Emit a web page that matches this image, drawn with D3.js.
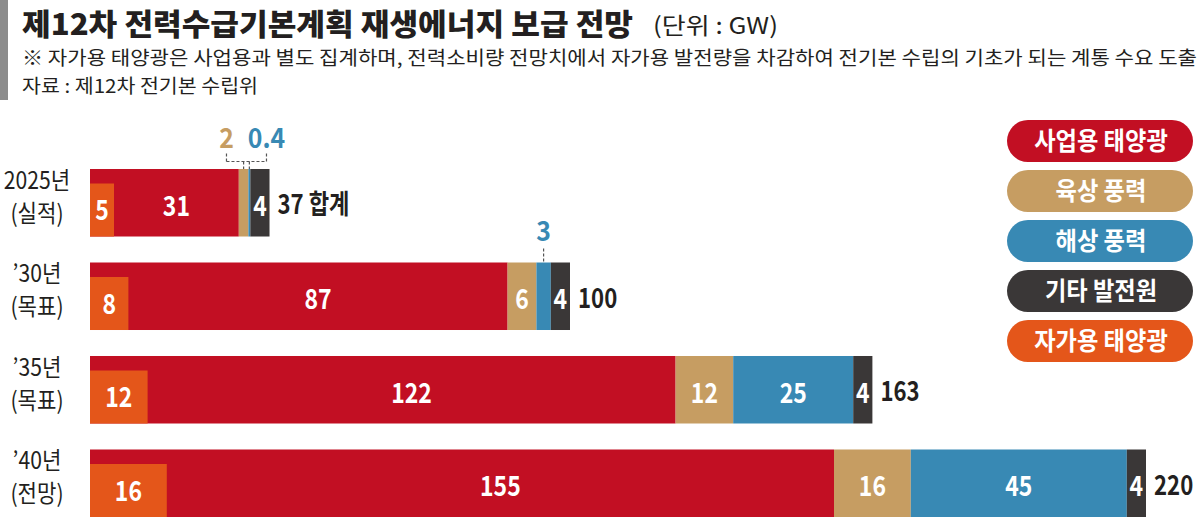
<!DOCTYPE html>
<html>
<head>
<meta charset="utf-8">
<script src="https://cdn.jsdelivr.net/npm/d3@7"></script>
<style>
  body { margin: 0; background: #fff; }
  svg { display: block; }
</style>
</head>
<body>
<div id="chart"></div>
<script>
// data (GW)
const categories = ["2025년", "’30년", "’35년", "’40년"];
const subLabels = ["(실적)", "(목표)", "(목표)", "(전망)"];
const seriesNames = ["사업용 태양광", "육상 풍력", "해상 풍력", "기타 발전원", "자가용 태양광"];
const utilitySolar = [31, 87, 122, 155];
const onshoreWind = [2, 6, 12, 16];
const offshoreWind = [0.4, 3, 25, 45];
const otherSources = [4, 4, 4, 4];
const selfSolar = [5, 8, 12, 16];
const totalLabels = ["37 합계", "100", "163", "220"];

const keys = ["utility", "onshore", "offshore", "other"];
const colors = ["#c20f23", "#c69d62", "#3889b4", "#3a3737", "#e4561a"];
const KR = "'Noto Sans CJK KR', 'Noto Sans', sans-serif";

const width = 1200, height = 517;

const svg = d3
  .select("#chart")
  .append("svg")
  .attr("width", width)
  .attr("height", height)
  .attr("viewBox", `0 0 ${width} ${height}`)
  .style("font-family", KR);

// squeeze text horizontally, the original uses a condensed face
const squeeze = (sel, k) =>
  sel.each(function () {
    const w = this.getComputedTextLength();
    d3.select(this).attr("textLength", w * k).attr("lengthAdjust", "spacingAndGlyphs");
  });

// header
svg.append("rect").attr("x", 0).attr("y", 0).attr("width", 8).attr("height", 100).attr("fill", "#8c8c8c");
svg.append("text")
  .attr("x", 22).attr("y", 35)
  .attr("font-size", 30).attr("font-weight", 900).attr("fill", "#231f20")
  .attr("textLength", 611).attr("lengthAdjust", "spacingAndGlyphs")
  .text("제12차 전력수급기본계획 재생에너지 보급 전망");
svg.append("text")
  .attr("x", 653).attr("y", 34)
  .attr("font-size", 23).attr("fill", "#231f20")
  .attr("textLength", 125).attr("lengthAdjust", "spacingAndGlyphs")
  .text("(단위 : GW)");
svg.append("text")
  .attr("x", 22).attr("y", 65)
  .attr("font-size", 19).attr("fill", "#231f20")
  .attr("textLength", 1175).attr("lengthAdjust", "spacingAndGlyphs")
  .text("※ 자가용 태양광은 사업용과 별도 집계하며, 전력소비량 전망치에서 자가용 발전량을 차감하여 전기본 수립의 기초가 되는 계통 수요 도출");
svg.append("text")
  .attr("x", 22).attr("y", 93)
  .attr("font-size", 19).attr("fill", "#231f20")
  .attr("textLength", 236).attr("lengthAdjust", "spacingAndGlyphs")
  .text("자료 : 제12차 전기본 수립위");

// scales
const x = d3.scaleLinear().domain([0, 220]).range([90, 1146]);
const y = d3.scaleBand().domain(categories).range([169, 517]).paddingInner(0.278).paddingOuter(0);
const bh = y.bandwidth();
const selfInset = 14.5;

const rows = categories.map((c, i) => ({
  cat: c,
  i: i,
  utility: utilitySolar[i],
  onshore: onshoreWind[i],
  offshore: offshoreWind[i],
  other: otherSources[i],
}));
const series = d3.stack().keys(keys)(rows);

// stacked bars
const layers = svg.selectAll("g.layer").data(series).enter().append("g").attr("class", "layer")
  .attr("fill", (s, k) => colors[k]);
layers.selectAll("rect")
  .data((s) => s)
  .enter()
  .append("rect")
  .attr("x", (d) => x(d[0]))
  .attr("y", (d) => y(d.data.cat))
  .attr("width", (d) => x(d[1]) - x(d[0]))
  .attr("height", bh);

// self-consumption solar, drawn over the start of the utility bar
svg.append("g").selectAll("rect")
  .data(rows)
  .enter()
  .append("rect")
  .attr("x", x(0))
  .attr("y", (d) => y(d.cat) + selfInset)
  .attr("width", (d) => x(selfSolar[d.i]) - x(0))
  .attr("height", bh - selfInset)
  .attr("fill", colors[4]);

svg.append("g").selectAll("text")
  .data(rows)
  .enter()
  .append("text")
  .attr("x", (d) => (x(0) + x(selfSolar[d.i])) / 2)
  .attr("y", (d) => y(d.cat) + (bh + selfInset) / 2)
  .attr("dy", "0.36em")
  .attr("text-anchor", "middle")
  .attr("font-size", 28).attr("font-weight", 700).attr("fill", "#fff")
  .text((d) => selfSolar[d.i])
  .call(squeeze, 0.82);

// labels inside segments
const small = 3.5;
const segLabels = [];
const callouts = [];
series.forEach((s, k) => {
  s.forEach((d) => {
    const v = d.data[keys[k]];
    const i = d.data.i;
    const left = k === 0 ? x(selfSolar[i]) : x(d[0]);
    const cx = (left + x(d[1])) / 2;
    if (v < small) callouts.push({ i, k, v, cx });
    else segLabels.push({ i, k, v, cx });
  });
});

svg.append("g").selectAll("text")
  .data(segLabels)
  .enter()
  .append("text")
  .attr("x", (d) => d.cx)
  .attr("y", (d) => y(categories[d.i]) + bh / 2 + 3)
  .attr("dy", "0.36em")
  .attr("text-anchor", "middle")
  .attr("font-size", 28).attr("font-weight", 700).attr("fill", "#fff")
  .text((d) => d.v)
  .call(squeeze, 0.82);

// callouts for thin segments
const cg = svg.append("g").attr("stroke", "#555").attr("stroke-width", 1.2).attr("stroke-dasharray", "3,2").attr("fill", "none");
d3.groups(callouts, (d) => d.i).forEach(([i, list]) => {
  const top = y(categories[i]);
  if (list.length > 1) {
    const mid = d3.mean(list, (d) => d.cx);
    list.forEach((d, j) => (d.lx = mid + (j === 0 ? -20 : 20)));
    const lineY = top - 7.5;
    cg.append("line").attr("x1", list[0].lx).attr("x2", list[list.length - 1].lx).attr("y1", lineY).attr("y2", lineY);
    list.forEach((d) => {
      cg.append("line").attr("x1", d.lx).attr("x2", d.lx).attr("y1", lineY).attr("y2", top - 16);
      cg.append("line").attr("x1", d.cx).attr("x2", d.cx).attr("y1", lineY).attr("y2", top);
    });
  } else {
    list[0].lx = list[0].cx;
    cg.append("line").attr("x1", list[0].cx).attr("x2", list[0].cx).attr("y1", top - 14).attr("y2", top);
  }
  list.forEach((d) => {
    svg.append("text")
      .attr("x", d.lx)
      .attr("y", top - 21)
      .attr("text-anchor", "middle")
      .attr("font-size", 27).attr("font-weight", 700).attr("fill", colors[d.k])
      .text(d.v)
      .call(squeeze, 0.92);
  });
});

// totals
svg.append("g").selectAll("text")
  .data(series[series.length - 1])
  .enter()
  .append("text")
  .attr("x", (d) => x(d[1]) + 8)
  .attr("y", (d) => y(d.data.cat) + bh / 2 + 2)
  .attr("dy", "0.36em")
  .attr("font-size", 27).attr("font-weight", 700).attr("fill", "#231f20")
  .text((d) => totalLabels[d.data.i])
  .call(squeeze, 0.82);

// category labels
const cat = svg.append("g").attr("text-anchor", "middle").attr("fill", "#231f20").attr("font-size", 24);
cat.selectAll("text.c1").data(categories).enter().append("text").attr("class", "c1")
  .attr("x", 37).attr("y", (d) => y(d) + 20)
  .text((d) => d)
  .call(squeeze, 0.88);
cat.selectAll("text.c2").data(categories).enter().append("text").attr("class", "c2")
  .attr("x", 37).attr("y", (d) => y(d) + 53)
  .text((d, i) => subLabels[i])
  .call(squeeze, 0.88);

// legend
const legend = svg.append("g").selectAll("g").data(seriesNames).enter().append("g")
  .attr("transform", (d, i) => `translate(1007, ${120 + i * 50})`);
legend.append("rect")
  .attr("width", 186).attr("height", 42).attr("rx", 21)
  .attr("fill", (d, i) => colors[i]);
legend.append("text")
  .attr("x", 94).attr("y", 21).attr("dy", "0.36em")
  .attr("text-anchor", "middle")
  .attr("font-size", 25).attr("font-weight", 700).attr("fill", "#fff")
  .text((d) => d)
  .call(squeeze, 0.93);
</script>
</body>
</html>
